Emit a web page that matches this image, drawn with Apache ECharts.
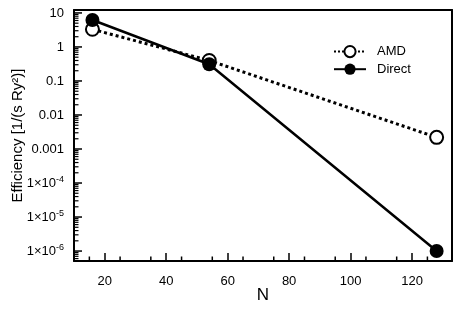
<!DOCTYPE html>
<html>
<head>
<meta charset="utf-8">
<script src="https://cdn.jsdelivr.net/npm/echarts@6/dist/echarts.min.js"></script>
<style>
html,body{margin:0;padding:0;background:#fff;}
#chart{width:463px;height:309px;}
</style>
</head>
<body>
<div id="chart"></div>
<script>
// ---- data ----
const seriesNames = ['AMD', 'Direct'];
const nValues = [16, 54, 128];
const amdValues = [3.3, 0.4, 0.0022];
const directValues = [6.2, 0.31, 1.0e-6];

// ---- axis setup ----
const xMin = 10, xMax = 133;
const yMin = 5.1e-7, yMax = 12.2;
const yTickValues = [1e-6, 1e-5, 1e-4, 0.001, 0.01, 0.1, 1, 10];
const yTickLabels = ['1×10{sup|-6}', '1×10{sup|-5}', '1×10{sup|-4}', '0.001', '0.01', '0.1', '1', '10'];
const xMinorTicks = [15, 25, 35, 45, 55, 65, 75, 85, 95, 105, 115, 125];
const yMinorMultipliers = [2, 3, 4, 5, 6, 7, 8, 9];

const yMinorTicks = [];
for (let e = -7; e <= 0; e++) {
  yMinorMultipliers.forEach(m => {
    const v = m * Math.pow(10, e);
    if (v > yMin && v < yMax) yMinorTicks.push(v);
  });
}

const FONT = "'Liberation Sans', Arial, Helvetica, sans-serif";
const chart = echarts.init(document.getElementById('chart'), null, {renderer: 'canvas'});

function yLabel(v) {
  for (let i = 0; i < yTickValues.length; i++) {
    if (Math.abs(v - yTickValues[i]) / yTickValues[i] < 1e-6) return yTickLabels[i];
  }
  return '';
}

const frameAxis = {
  axisLine: {show: true, lineStyle: {color: '#000', width: 2}},
  axisTick: {show: false}, axisLabel: {show: false}, splitLine: {show: false}
};

function tickSeries(name, rows, size, offset) {
  return {
    name: name, type: 'scatter', z: 5, silent: true, clip: false,
    data: rows, symbol: 'rect', symbolSize: size, symbolOffset: offset,
    itemStyle: {color: '#000', opacity: 1},
    emphasis: {disabled: true}, tooltip: {show: false}
  };
}

chart.setOption({
  animation: false,
  grid: {left: 74, right: 11, top: 10, bottom: 48, outerBoundsMode: 'none'},
  legend: {
    data: seriesNames,
    left: 333, top: 45, orient: 'vertical', padding: 0,
    itemWidth: 32, itemHeight: 14, itemGap: 4.5,
    textStyle: {fontFamily: FONT, fontSize: 13, color: '#000', padding: [0, 0, 0, 6]}
  },
  xAxis: [{
    type: 'value', min: xMin, max: xMax,
    name: 'N', nameLocation: 'middle', nameGap: 26, nameMoveOverlap: false,
    nameTextStyle: {fontFamily: FONT, fontSize: 17, color: '#000'},
    axisLine: {show: true, lineStyle: {color: '#000', width: 2}},
    axisTick: {show: true, inside: true, length: 8, lineStyle: {color: '#000', width: 1.5}},
    axisLabel: {fontFamily: FONT, fontSize: 13, color: '#000', margin: 14, showMinLabel: false, showMaxLabel: false},
    splitLine: {show: false}
  }, Object.assign({type: 'value', position: 'top', min: xMin, max: xMax}, frameAxis)],
  yAxis: [{
    type: 'log', logBase: 10, min: yMin, max: yMax,
    name: 'Efficiency [1/(s Ry²)]', nameLocation: 'middle', nameGap: 49, nameMoveOverlap: false,
    nameTextStyle: {fontFamily: FONT, fontSize: 15, color: '#000'},
    axisLine: {show: true, lineStyle: {color: '#000', width: 2}},
    axisTick: {show: false},
    axisLabel: {
      fontFamily: FONT, fontSize: 13, color: '#000', margin: 10,
      formatter: yLabel,
      rich: {sup: {fontFamily: FONT, fontSize: 9, color: '#000', padding: [0, 0, 8, 0]}}
    },
    splitLine: {show: false}
  }, Object.assign({type: 'log', logBase: 10, position: 'right', min: yMin, max: yMax}, frameAxis)],
  series: [
    {
      name: 'AMD', type: 'line', z: 3,
      data: nValues.map((n, i) => [n, amdValues[i]]),
      symbol: 'circle', symbolSize: 13,
      lineStyle: {color: '#000', width: 3, type: 'dotted'},
      itemStyle: {color: '#fff', borderColor: '#000', borderWidth: 2}
    },
    {
      name: 'Direct', type: 'line', z: 4,
      data: nValues.map((n, i) => [n, directValues[i]]),
      symbol: 'circle', symbolSize: 14,
      lineStyle: {color: '#000', width: 2.5, type: 'solid'},
      itemStyle: {color: '#000', borderColor: '#000', borderWidth: 0}
    },
    tickSeries('yMajorTicks', yTickValues.map(v => [xMin, v]), [8, 1.5], [4, 0]),
    tickSeries('yMinorTicks', yMinorTicks.map(v => [xMin, v]), [4.5, 1.2], [2.25, 0]),
    tickSeries('xMinorTicks', xMinorTicks.map(v => [v, yMin]), [1.5, 4.5], [0, -2.25])
  ]
});
</script>
</body>
</html>
